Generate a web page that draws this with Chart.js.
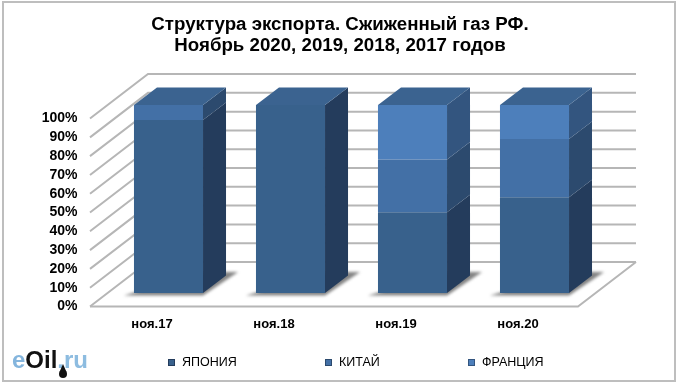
<!DOCTYPE html>
<html>
<head>
<meta charset="utf-8">
<script src="https://cdn.jsdelivr.net/npm/chart.js@4"></script>
<style>
    html, body { margin: 0; padding: 0; background: #fff; }
    #wrap { position: relative; width: 680px; height: 385px; }
    #frame { position: absolute; left: 2px; top: 1px; width: 670px; height: 377px; border: 2px solid #bebebe; pointer-events: none; }
</style>
</head>
<body>
<div id="wrap">
    <canvas id="exportChart" width="680" height="385"></canvas>
    <div id="frame"></div>
</div>
<script>
// Data block
const titleLines = ['Структура экспорта. Сжиженный газ РФ.', 'Ноябрь 2020, 2019, 2018, 2017 годов'];
const categories = ['ноя.17', 'ноя.18', 'ноя.19', 'ноя.20'];
const japan = [92, 100, 43, 51];
const china = [8, 0, 28, 31];
const france = [0, 0, 29, 18];

const frontColors = ['#38618c', '#4370a6', '#4d7fbb'];
const sideColors = ['#243c5c', '#2c4a6e', '#33557f'];
const topColor = '#3b6390';
const gridColor = '#b6b6b6';

// Depth of the 3D box, the walls and the label shift
const barDepth = { x: 23, y: -17.5 };
const wallFront = { x: -17.5, y: 13.5 };
const wallBack = { x: 40.5, y: -31 };

function polygon(ctx, points, fill) {
    ctx.beginPath();
    points.forEach((p, i) => i ? ctx.lineTo(p[0], p[1]) : ctx.moveTo(p[0], p[1]));
    ctx.closePath();
    ctx.fillStyle = fill;
    ctx.fill();
}

// Walls and floor behind the bars, plus the floor shadow of each bar
const wallsPlugin = {
    id: 'walls',
    // Title is centred on the whole canvas, not on the padded box
    afterLayout(chart) {
        chart.titleBlock.left = 0;
        chart.titleBlock.right = chart.width;
    },
    beforeDatasetsDraw(chart) {
        const ctx = chart.ctx;
        const { left, right } = chart.chartArea;
        const y = chart.scales.y;
        ctx.save();
        ctx.strokeStyle = gridColor;
        ctx.lineWidth = 2;
        y.ticks.forEach(tick => {
            const py = y.getPixelForValue(tick.value);
            ctx.beginPath();
            ctx.moveTo(left + wallFront.x, py + wallFront.y);
            ctx.lineTo(left + wallBack.x, py + wallBack.y);
            ctx.lineTo(right + wallBack.x, py + wallBack.y);
            ctx.stroke();
        });
        const floor = y.getPixelForValue(0);
        ctx.beginPath();
        ctx.moveTo(left + wallFront.x, floor + wallFront.y);
        ctx.lineTo(right + wallFront.x, floor + wallFront.y);
        ctx.lineTo(right + wallBack.x, floor + wallBack.y);
        ctx.stroke();

        chart.getDatasetMeta(0).data.forEach(bar => {
            const r = bar.x + bar.width / 2;
            const l = bar.x - bar.width / 2;
            const base = bar.base;
            ctx.save();
            ctx.filter = 'blur(1.5px)';
            polygon(ctx, [[l - 10, base + 2.5], [r, base + 2.5], [r + 35, base - 21], [r, base - 21]], 'rgba(100,100,100,0.8)');
            ctx.restore();
        });
        ctx.restore();
    },
    afterDatasetsDraw(chart) {
        const ctx = chart.ctx;
        ctx.save();
        const count = chart.data.labels.length;
        for (let j = 0; j < count; j++) {
            let last = null;
            chart.data.datasets.forEach((ds, i) => {
                if (!ds.data[j]) return;
                const bar = chart.getDatasetMeta(i).data[j];
                const r = bar.x + bar.width / 2;
                polygon(ctx, [[r, bar.y], [r + barDepth.x, bar.y + barDepth.y], [r + barDepth.x, bar.base + barDepth.y], [r, bar.base]], sideColors[i]);
                last = bar;
            });
            const l = last.x - last.width / 2;
            const r = last.x + last.width / 2;
            polygon(ctx, [[l, last.y], [l + barDepth.x, last.y + barDepth.y], [r + barDepth.x, last.y + barDepth.y], [r, last.y]], topColor);
        }
        ctx.restore();
    }
};

// Legend row and the site logo at the bottom
const legendNames = ['ЯПОНИЯ', 'КИТАЙ', 'ФРАНЦИЯ'];
const legendMarkerX = [168, 325, 468];
const logoParts = [['e', '#84b5dd'], ['Oil', '#111111'], ['.ru', '#8dbce0']];

const footerPlugin = {
    id: 'footer',
    afterDraw(chart) {
        const ctx = chart.ctx;
        ctx.save();
        ctx.textBaseline = 'middle';
        ctx.font = '12.5px "Liberation Sans"';
        legendNames.forEach((name, i) => {
            const x = legendMarkerX[i];
            ctx.fillStyle = sideColors[i];
            ctx.fillRect(x, 359, 7, 7);
            ctx.fillStyle = frontColors[i];
            ctx.fillRect(x + 1, 360, 5, 5);
            ctx.fillStyle = '#000';
            ctx.fillText(name, x + 14, 362.5);
        });

        ctx.font = 'bold 24px "Liberation Sans"';
        ctx.textBaseline = 'alphabetic';
        let x = 12;
        logoParts.forEach(part => {
            ctx.fillStyle = part[1];
            ctx.fillText(part[0], x, 368);
            x += ctx.measureText(part[0]).width;
        });
        // oil drop under the logo
        ctx.fillStyle = '#111';
        ctx.beginPath();
        ctx.arc(63, 374, 4, 0, Math.PI * 2);
        ctx.fill();
        polygon(ctx, [[59.5, 372], [63, 364], [66.5, 372]], '#111');
        ctx.restore();
    }
};

// Config block
const exportConfig = {
    type: 'bar',
    data: {
        labels: categories,
        datasets: [
            { label: legendNames[0], data: japan, backgroundColor: frontColors[0] },
            { label: legendNames[1], data: china, backgroundColor: frontColors[1] },
            { label: legendNames[2], data: france, backgroundColor: frontColors[2] }
        ]
    },
    options: {
        responsive: false,
        animation: false,
        layout: { padding: { right: 84.5 } },
        datasets: { bar: { categoryPercentage: 1, barPercentage: 0.566, borderWidth: 0 } },
        plugins: {
            legend: { display: false },
            tooltip: { enabled: false },
            title: {
                display: true,
                text: titleLines,
                color: '#000',
                font: { family: '"Liberation Sans"', size: 18.7, weight: 'bold', lineHeight: 1.13 },
                padding: { top: 14, bottom: 48.8 }
            }
        },
        scales: {
            x: {
                stacked: true,
                grid: { display: false },
                border: { display: false },
                afterFit: scale => { scale.height = 92; },
                ticks: {
                    color: '#000',
                    padding: 16,
                    labelOffset: -16.5,
                    maxRotation: 0,
                    font: { family: '"Liberation Sans"', size: 13, weight: 'bold' }
                }
            },
            y: {
                stacked: true,
                min: 0,
                max: 100,
                grid: { display: false },
                border: { display: false },
                afterFit: scale => { scale.width = 107.5; },
                ticks: {
                    stepSize: 10,
                    autoSkip: false,
                    color: '#000',
                    padding: 22,
                    labelOffset: 13.5,
                    callback: v => v + '%',
                    font: { family: '"Liberation Sans"', size: 14, weight: 'bold' }
                }
            }
        }
    },
    plugins: [wallsPlugin, footerPlugin]
};

// render / init block
const exportChart = new Chart(document.getElementById('exportChart'), exportConfig);
</script>
</body>
</html>
